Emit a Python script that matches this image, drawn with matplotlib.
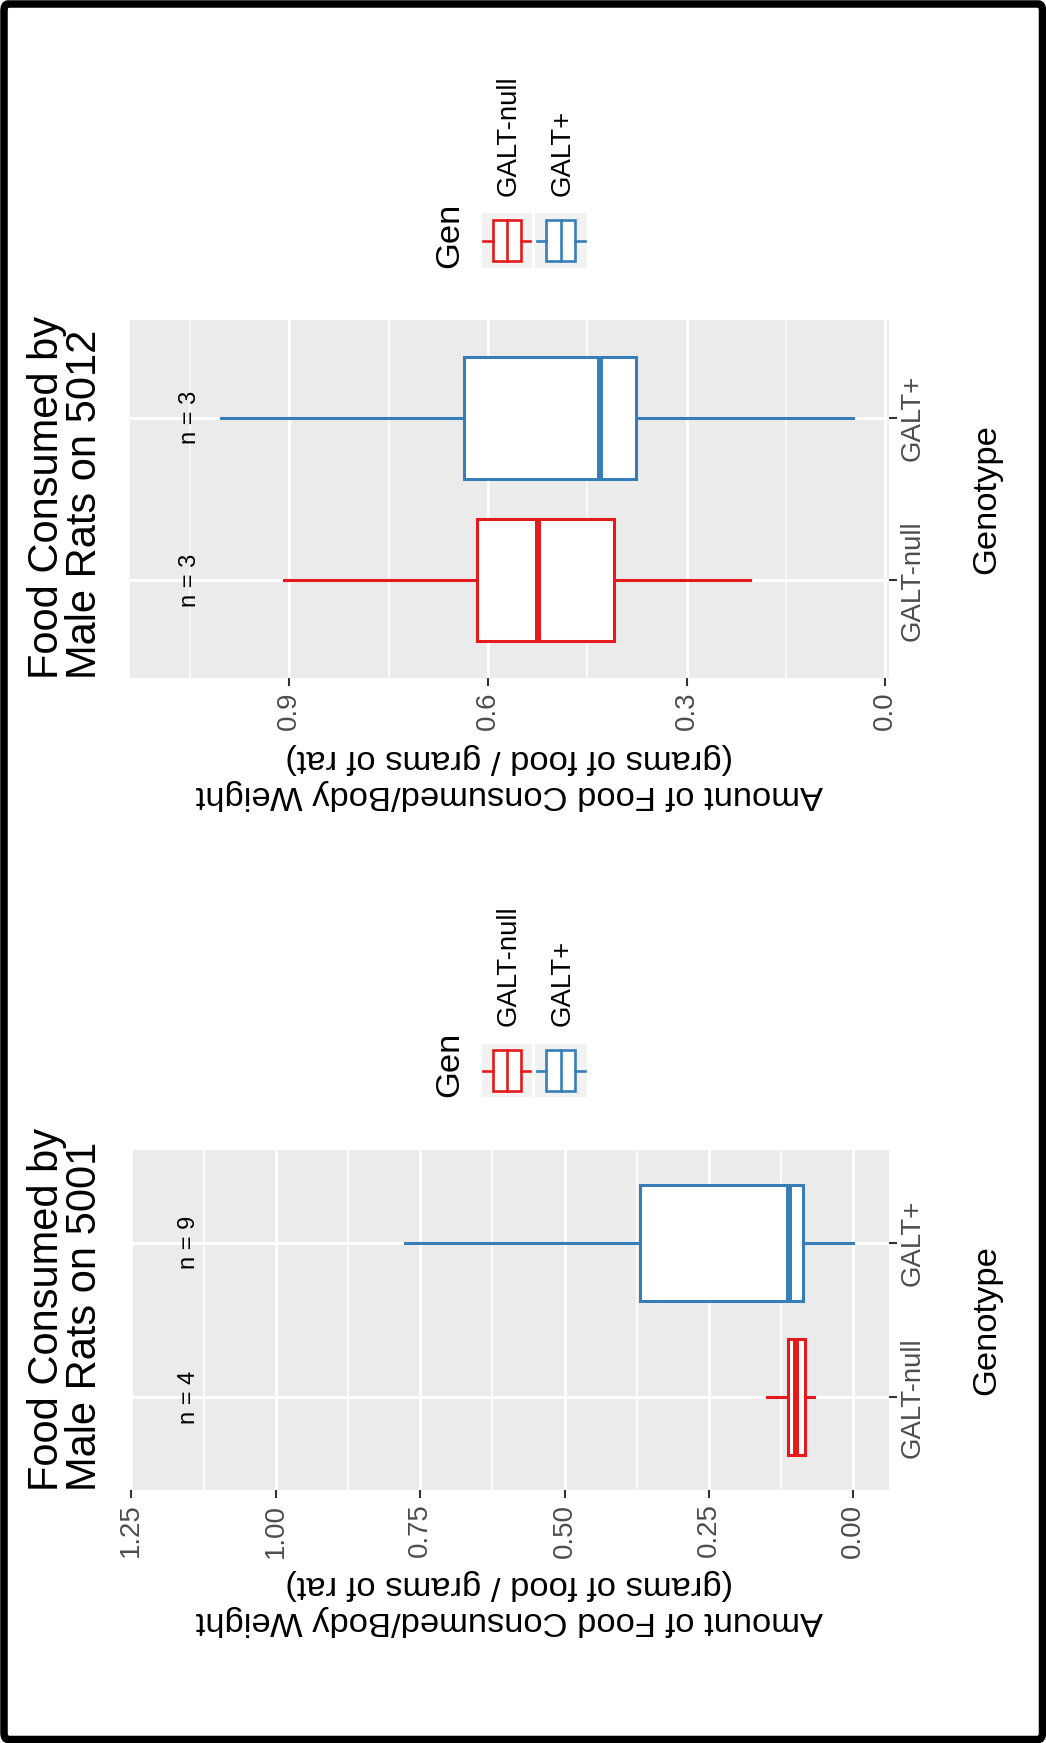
import matplotlib
matplotlib.use("Agg")
import matplotlib.pyplot as plt
from matplotlib.patches import Rectangle, FancyBboxPatch
from matplotlib.lines import Line2D

plt.rcParams['font.family'] = ['Liberation Sans', 'DejaVu Sans']

# ---- data -------------------------------------------------------------
genotypes = ["GALT-null", "GALT+"]
gen_colors = ["#E41A1C", "#377EB8"]

# five-number summaries: (lower whisker, Q1, median, Q3, upper whisker)
diet5001_null = [0.068, 0.083, 0.100, 0.113, 0.150]
diet5001_plus = [0.001, 0.087, 0.111, 0.369, 0.777]
diet5001_n = [4, 9]
diet5001_ticks = [0.0, 0.25, 0.50, 0.75, 1.00, 1.25]
diet5001_ticklabels = ["0.00", "0.25", "0.50", "0.75", "1.00", "1.25"]

diet5012_null = [0.204, 0.410, 0.524, 0.617, 0.908]
diet5012_plus = [0.049, 0.377, 0.431, 0.637, 1.003]
diet5012_n = [3, 3]
diet5012_ticks = [0.0, 0.3, 0.6, 0.9]
diet5012_ticklabels = ["0.0", "0.3", "0.6", "0.9"]

value_label = "Amount of Food Consumed/Body Weight\n(grams of food / grams of rat)"
cat_label = "Genotype"
legend_title = "Gen"

# ---- figure geometry (pixels) ------------------------------------------
W, H = 1046, 1743
fig = plt.figure(figsize=(W / 100, H / 100), dpi=100)
fig.patch.set_facecolor("white")


def fx(px):
    return px / W


def fy(py):
    return 1 - py / H


TITLE_FS = 30
AXIS_TITLE_FS = 24.8
TICK_FS = 19.9
N_FS = 17
BOX_LW = 2.2
MED_LW = 4.3


def draw_panel(rect, title, summaries, counts, ticks, ticklabels, vlim, n_at,
               key_top, key_bottom, label_bottom):
    l, t, r, b = rect
    ax = fig.add_axes([fx(l), fy(b), (r - l) / W, (b - t) / H])
    ax.set_facecolor("#EBEBEB")
    for s in ax.spines.values():
        s.set_visible(False)

    stats = [dict(whislo=s[0], q1=s[1], med=s[2], q3=s[3], whishi=s[4],
                  label=g) for s, g in zip(summaries, genotypes)]
    art = ax.bxp(stats, positions=[1, 2], widths=0.75,
                 orientation='horizontal', patch_artist=True,
                 showfliers=False, showcaps=False, manage_ticks=False)
    for i, c in enumerate(gen_colors):
        box = art['boxes'][i]
        box.set_facecolor("white")
        box.set_edgecolor(c)
        box.set_linewidth(BOX_LW)
        box.set_zorder(3)
        med = art['medians'][i]
        med.set_color(c)
        med.set_linewidth(MED_LW)
        med.set_solid_capstyle('butt')
        med.set_zorder(4)
        for w in art['whiskers'][2 * i:2 * i + 2]:
            w.set_color(c)
            w.set_linewidth(BOX_LW)
            w.set_zorder(2.5)

    ax.set_xlim(*vlim)
    ax.set_ylim(0.4, 2.6)

    # value axis (horizontal, zero on the right)
    ax.set_xticks(ticks)
    ax.set_xticklabels(ticklabels, rotation=90, fontsize=TICK_FS,
                       color="#4D4D4D")
    step = ticks[1] - ticks[0]
    minors = [v + step / 2 for v in ticks] + [ticks[0] - step / 2]
    ax.set_xticks([m for m in minors if min(vlim) < m < max(vlim)],
                  minor=True)
    ax.tick_params(axis='x', which='major', length=5.8, width=1.5,
                   color="#333333", pad=4)
    ax.tick_params(axis='x', which='minor', length=0)

    # genotype axis (vertical, labels on the right)
    ax.set_yticks([1, 2])
    ax.set_yticklabels(genotypes, rotation=90, va='center',
                       fontsize=TICK_FS, color="#4D4D4D")
    ax.tick_params(axis='y', which='major', left=False, right=True,
                   labelleft=False, labelright=True, length=5.8, width=1.5,
                   color="#333333", pad=1.5)

    ax.grid(True, which='major', color="white", linewidth=2.2)
    ax.grid(True, which='minor', axis='x', color="white", linewidth=1.1)
    ax.set_axisbelow(True)

    for pos, n in zip([1, 2], counts):
        ax.text(n_at, pos, f"n = {n}", rotation=90, ha='center',
                va='center', fontsize=N_FS, color="black", zorder=5)

    # axis titles
    ax.set_xlabel(value_label, rotation=180, fontsize=AXIS_TITLE_FS,
                  multialignment='center', va='top', ha='center')
    ax.xaxis.set_label_coords(0.5, -(label_bottom - b) / (b - t))
    ax.yaxis.set_label_position('right')
    ax.set_ylabel(cat_label, rotation=90, fontsize=AXIS_TITLE_FS)
    ax.yaxis.set_label_coords((971 - l) / (r - l), 0.5)

    # plot title
    fig.text(fx(27), fy(b + 1), title, rotation=90, ha='left', va='bottom',
             multialignment='left', fontsize=TITLE_FS, linespacing=0.95)

    # legend
    fig.text(fx(450), fy(key_bottom), legend_title, rotation=90,
             ha='center', va='bottom', fontsize=AXIS_TITLE_FS)
    key_x = [(481.7, 531.7), (535.0, 586.7)]
    for (x0, x1), c, g in zip(key_x, gen_colors, genotypes):
        kax = fig.add_axes([fx(x0), fy(key_bottom), (x1 - x0) / W,
                            (key_bottom - key_top) / H])
        kax.set_facecolor("#F2F2F2")
        kax.set_xticks([])
        kax.set_yticks([])
        for s in kax.spines.values():
            s.set_visible(False)
        kax.set_xlim(0, 1)
        kax.set_ylim(0, 1)
        kax.add_patch(Rectangle((0.22, 0.12), 0.56, 0.76, facecolor="white",
                                edgecolor=c, linewidth=1.9))
        kax.add_line(Line2D([0.51, 0.51], [0.12, 0.88], color=c,
                            linewidth=1.9))
        kax.add_line(Line2D([0.03, 0.22], [0.5, 0.5], color=c,
                            linewidth=1.9))
        kax.add_line(Line2D([0.78, 0.97], [0.5, 0.5], color=c,
                            linewidth=1.9))
        fig.text(fx((x0 + x1) / 2 + 1.5), fy(label_bottom_leg[key_top]), g,
                 rotation=90, ha='center', va='bottom', fontsize=TICK_FS)
    return ax


label_bottom_leg = {213: 196, 1044: 1026}

draw_panel((130, 1150, 889, 1490), "Food Consumed by\nMale Rats on 5001",
           [diet5001_null, diet5001_plus], diet5001_n, diet5001_ticks,
           diet5001_ticklabels, (1.2523, -0.0617), 1.15,
           1044, 1097, 1569)

draw_panel((130, 320, 889, 678), "Food Consumed by\nMale Rats on 5012",
           [diet5012_null, diet5012_plus], diet5012_n, diet5012_ticks,
           diet5012_ticklabels, (1.1407, -0.0056), 1.05,
           213, 268, 743)

# black frame around the whole figure
frame = FancyBboxPatch((fx(4), fy(1739.5)), fx(1042.5) - fx(4),
                       fy(4) - fy(1739.5), boxstyle="round,pad=0,rounding_size=0.004",
                       transform=fig.transFigure, fill=False,
                       edgecolor="black", linewidth=5.4)
fig.patches.append(frame)

fig.savefig("out.png", dpi=100, facecolor="white")
